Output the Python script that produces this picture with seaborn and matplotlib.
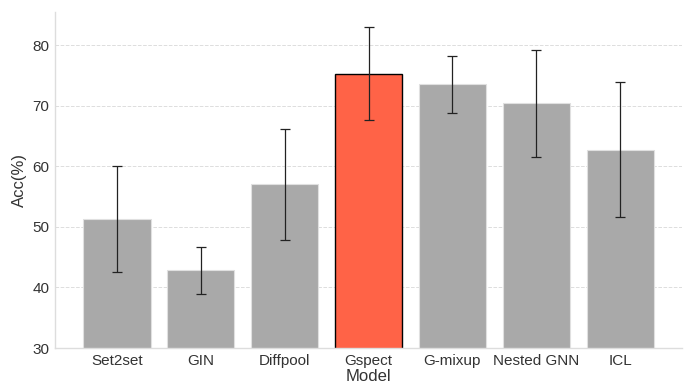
import matplotlib
matplotlib.use("Agg")
import matplotlib.pyplot as plt
import seaborn as sns
import pandas as pd

models = ["Set2set", "GIN", "Diffpool", "Gspect", "G-mixup", "Nested GNN", "ICL"]
acc = [51.3, 42.8, 57.0, 75.3, 73.5, 70.4, 62.7]
err = [8.8, 3.9, 9.1, 7.7, 4.75, 8.85, 11.15]
bar_colors = ["#A9A9A9", "#A9A9A9", "#A9A9A9", "#FF6347", "#A9A9A9", "#A9A9A9", "#A9A9A9"]
edge_colors = ["#E0E0E0", "#E0E0E0", "#E0E0E0", "black", "#E0E0E0", "#E0E0E0", "#E0E0E0"]

df = pd.DataFrame({"Model": models, "Acc": acc})

sns.set_style("whitegrid")
plt.rcParams["font.family"] = ["Liberation Sans", "DejaVu Sans"]

fig = plt.figure(figsize=(6.89, 3.85), dpi=100)
ax = fig.add_axes([0.0798, 0.0961, 0.9102, 0.8719])

sns.barplot(data=df, x="Model", y="Acc", hue="Model", palette=bar_colors,
            legend=False, width=0.8, ax=ax, errorbar=None, saturation=1)
for patch, ec in zip(ax.patches, edge_colors):
    patch.set_edgecolor(ec)
    patch.set_linewidth(1.0 if ec == "black" else 0.8)

ax.errorbar(range(len(models)), acc, yerr=err, fmt="none", ecolor="#222222",
            elinewidth=0.9, capsize=3.5, capthick=0.9)

ax.set_ylim(30, 85.4)
ax.set_xlim(-0.74, 6.74)
ax.set_yticks([30, 40, 50, 60, 70, 80])
ax.grid(False)
ax.yaxis.grid(True, linestyle="--", color="#dddddd", linewidth=0.7)
ax.set_axisbelow(True)
sns.despine(ax=ax)
for s in ["left", "bottom"]:
    ax.spines[s].set_color("#dddddd")
    ax.spines[s].set_linewidth(1.0)
ax.tick_params(axis="both", labelsize=11, colors="#333333", length=0, pad=4)
ax.set_xlabel("Model", fontsize=12, color="#333333", labelpad=1)
ax.set_ylabel("Acc(%)", fontsize=12, color="#333333")

fig.savefig("out.png", dpi=100)
